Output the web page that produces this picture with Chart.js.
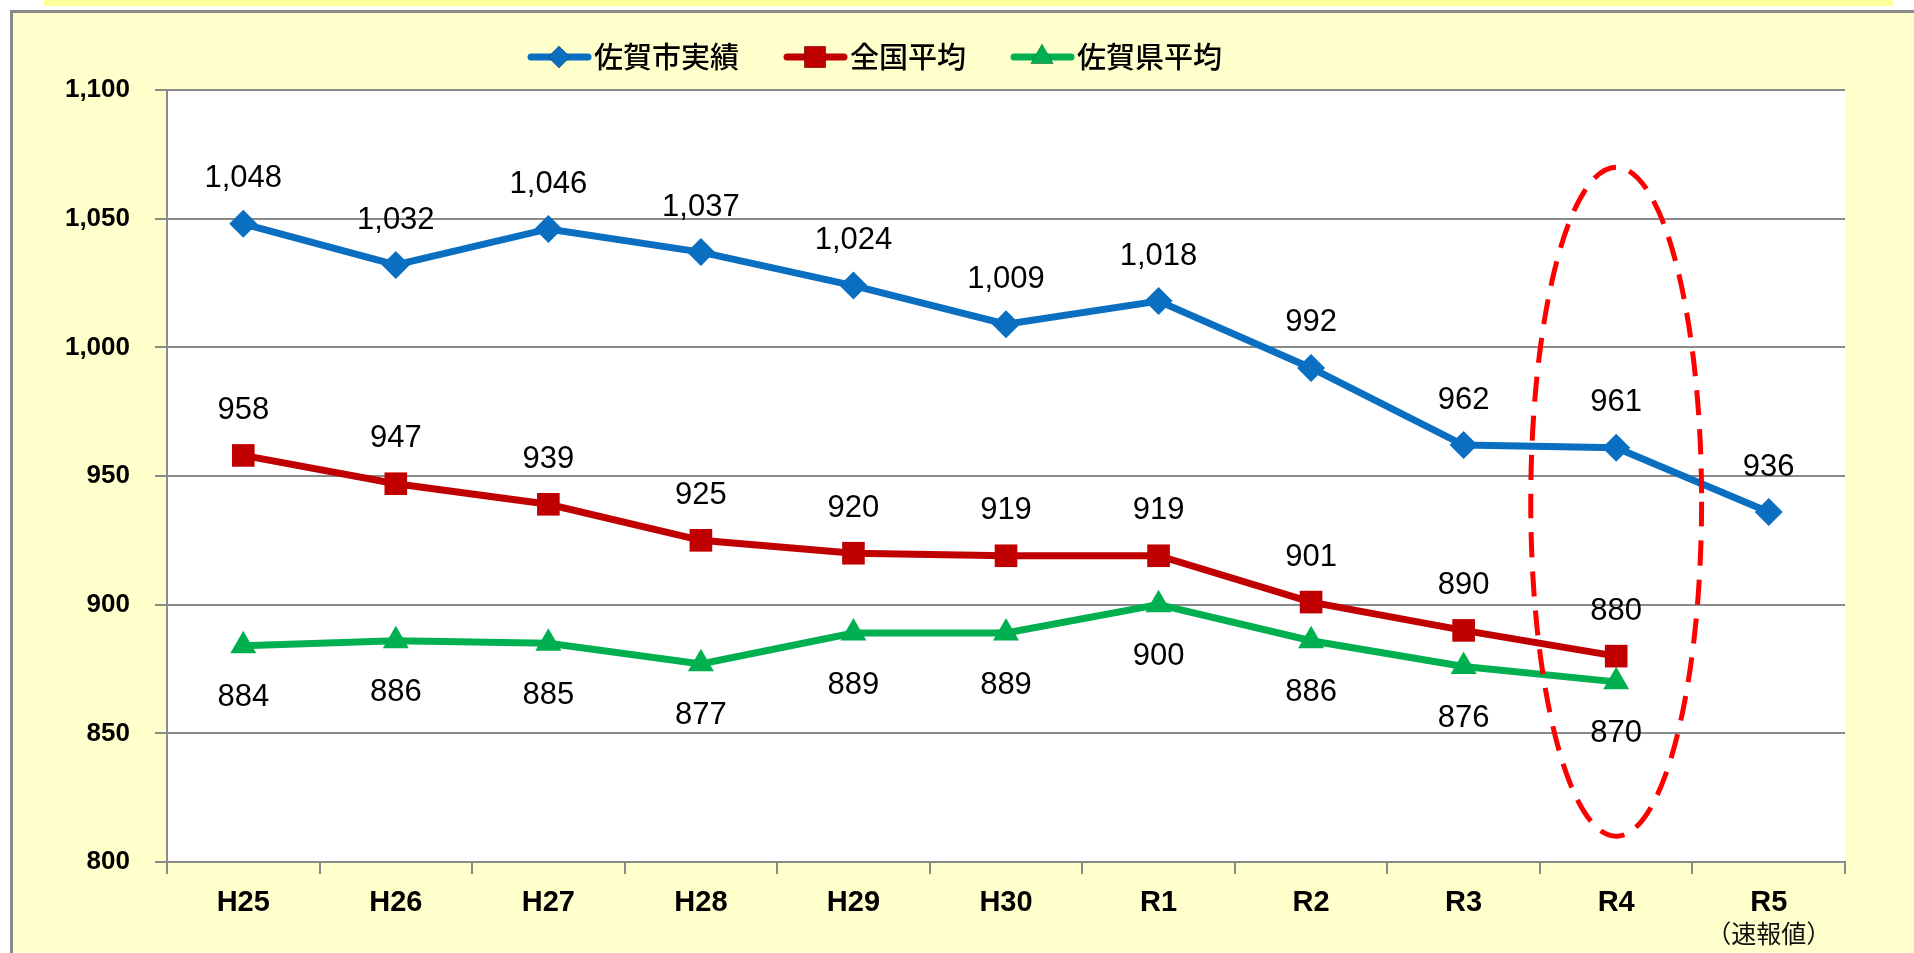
<!DOCTYPE html>
<html><head><meta charset="utf-8">
<script src="https://cdn.jsdelivr.net/npm/chart.js@4"></script>
<style>
html,body{margin:0;padding:0;background:#fff;width:1914px;height:953px;overflow:hidden;}
#hdr{position:absolute;left:44px;top:0;width:1849px;height:6px;background:#FFFF99;}
#box{position:absolute;left:10px;top:10px;width:1904px;height:943px;background:#FFFFCC;border-top:3px solid #8a8a8a;border-left:3px solid #8a8a8a;box-sizing:border-box;}
#c{position:absolute;left:0;top:0;}
</style></head>
<body>
<div id="hdr"></div><div id="box"></div>
<canvas id="c" width="1914" height="953"></canvas>
<script>
const categories = ['H25','H26','H27','H28','H29','H30','R1','R2','R3','R4','R5'];
const sagaCity = [1048,1032,1046,1037,1024,1009,1018,992,962,961,936];
const national = [958,947,939,925,920,919,919,901,890,880,null];
const sagaPref = [884,886,885,877,889,889,900,886,876,870,null];
const seriesNames = ['佐賀市実績','全国平均','佐賀県平均'];
const r5Note = '（速報値）';
const highlight = {index: 9, top: 1070, bottom: 810, halfWidth: 0.56};

const cBlue = '#0B6FC1', cRed = '#C00000', cGreen = '#00B050';
const NUMFONT = '"Liberation Sans", Arial, sans-serif';
const JPFONT = '"Noto Sans CJK JP", sans-serif';

const bgPlugin = {
  id: 'bg',
  beforeDraw(chart){
    const {ctx, chartArea:a} = chart;
    ctx.save(); ctx.fillStyle = '#fff';
    ctx.fillRect(a.left, a.top, a.right - a.left, a.bottom - a.top);
    ctx.restore();
  }
};

const labelPlugin = {
  id: 'labels',
  afterDatasetsDraw(chart){
    const ctx = chart.ctx;
    ctx.save();
    ctx.font = '31px ' + NUMFONT;
    ctx.fillStyle = '#000';
    ctx.textAlign = 'center';
    ctx.textBaseline = 'middle';
    chart.data.datasets.forEach((ds, di) => {
      const meta = chart.getDatasetMeta(di);
      meta.data.forEach((pt, i) => {
        const v = ds.data[i];
        if (v == null) return;
        const off = ds.labelPos === 'below' ? 52 : -45;
        ctx.fillText(v.toLocaleString('en-US'), pt.x, pt.y + off);
      });
    });
    const xs = chart.scales.x, ys = chart.scales.y;
    const cx = xs.getPixelForValue(highlight.index);
    const catW = xs.getPixelForValue(1) - xs.getPixelForValue(0);
    const yt = ys.getPixelForValue(highlight.top), yb = ys.getPixelForValue(highlight.bottom);
    ctx.beginPath();
    ctx.setLineDash([25, 14]);
    ctx.lineWidth = 5;
    ctx.strokeStyle = '#FF0000';
    ctx.ellipse(cx, (yt + yb) / 2, catW * highlight.halfWidth, (yb - yt) / 2, 0, 0, Math.PI * 2);
    ctx.stroke();
    ctx.setLineDash([]);
    ctx.font = '25px ' + JPFONT;
    ctx.fillStyle = '#111';
    ctx.fillText(r5Note, xs.getPixelForValue(10), 933);
    ctx.restore();
  }
};

const legendPlugin = {
  id: 'customLegend',
  afterDraw(chart){
    const ctx = chart.ctx;
    ctx.save();
    ctx.font = '500 29px ' + JPFONT;
    ctx.textBaseline = 'middle';
    ctx.fillStyle = '#000';
    let x = 527; const y = 57;
    chart.data.datasets.forEach((ds) => {
      ctx.strokeStyle = ds.borderColor; ctx.lineWidth = 7; ctx.lineCap = 'round';
      ctx.beginPath(); ctx.moveTo(x + 4, y); ctx.lineTo(x + 61, y); ctx.stroke();
      Chart.helpers.drawPoint(ctx, {pointStyle: ds.pointStyle, radius: ds.legendRadius, borderWidth: 0}, x + 32, y);
      ctx.fillStyle = ds.borderColor; ctx.fill();
      ctx.fillStyle = '#000';
      ctx.fillText(ds.label, x + 67, y);
      x += 67 + ctx.measureText(ds.label).width + 44;
    });
    ctx.restore();
  }
};

new Chart(document.getElementById('c'), {
  type: 'line',
  data: {
    labels: categories,
    datasets: [
      {label: seriesNames[0], data: sagaCity, borderColor: cBlue, backgroundColor: cBlue, borderWidth: 7,
       pointStyle: 'rectRot', pointRadius: 14, pointBorderWidth: 0, labelPos: 'above', legendRadius: 11},
      {label: seriesNames[1], data: national, borderColor: cRed, backgroundColor: cRed, borderWidth: 7,
       pointStyle: 'rect', pointRadius: 16, pointBorderWidth: 0, labelPos: 'above', legendRadius: 15},
      {label: seriesNames[2], data: sagaPref, borderColor: cGreen, backgroundColor: cGreen, borderWidth: 7,
       pointStyle: 'triangle', pointRadius: 15, pointBorderWidth: 0, labelPos: 'below', legendRadius: 13}
    ]
  },
  options: {
    responsive: false,
    devicePixelRatio: 1,
    animation: false,
    layout: {padding: {top: 90, right: 69, bottom: 0, left: 0}},
    plugins: {legend: {display: false}, tooltip: {enabled: false}},
    elements: {line: {tension: 0}},
    scales: {
      x: {
        offset: true,
        grid: {offset: true, drawOnChartArea: false, drawTicks: true, tickLength: 12, color: '#8a8a8a', lineWidth: 2},
        border: {color: '#8a8a8a', width: 2},
        ticks: {font: {family: NUMFONT, size: 29, weight: 'bold'}, color: '#000', padding: 12, maxRotation: 0},
        afterFit(s){ s.height = 91; }
      },
      y: {
        min: 800, max: 1100,
        ticks: {stepSize: 50, font: {family: NUMFONT, size: 26, weight: 'bold'}, color: '#000', padding: 25,
                callback: v => v.toLocaleString('en-US')},
        grid: {color: '#8a8a8a', lineWidth: 2, tickLength: 12},
        border: {color: '#8a8a8a', width: 2},
        afterFit(s){ s.width = 167; }
      }
    }
  },
  plugins: [bgPlugin, labelPlugin, legendPlugin]
});
</script>
</body></html>
